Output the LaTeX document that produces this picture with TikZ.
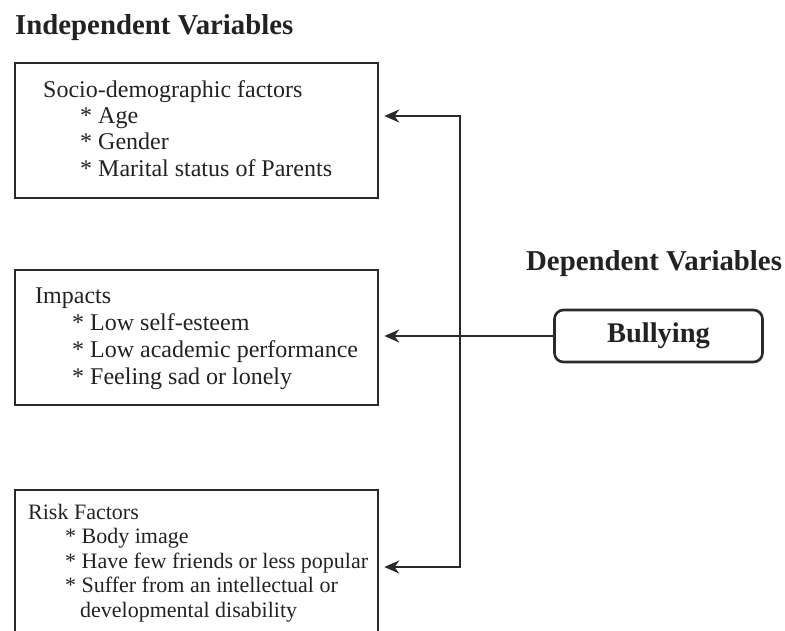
\documentclass[tikz,border=0pt]{standalone}
\usepackage{fontspec}
\setmainfont{Liberation Serif}
\usepackage{tikz}
\usetikzlibrary{positioning, arrows.meta, calc}
\definecolor{frameInk}{HTML}{2A2A2A}
\definecolor{textInk}{HTML}{222222}

\begin{document}
\begin{tikzpicture}[
  x=1pt, y=-1pt,
  varbox/.style={
    rectangle, draw=frameInk, line width=2.6pt,
    minimum width=363pt, minimum height=#1, inner sep=0pt
  },
  depbox/.style={
    rectangle, rounded corners=9pt,
    draw=frameInk, line width=2.6pt,
    minimum width=208pt, minimum height=52pt,
    font=\fontsize{28.5}{32}\selectfont\bfseries, text=textInk
  },
  headlabel/.style={
    font=\fontsize{28.8}{32}\selectfont\bfseries, text=textInk,
    anchor=base west, inner sep=0pt
  },
  listlabel/.style={
    font=\fontsize{24}{#1}\selectfont, text=textInk,
    align=left, anchor=base west, inner sep=0pt
  },
  linkarrow/.style={
    draw=frameInk, line width=2.3pt,
    {Stealth[length=15pt, width=13pt]}-{Stealth[length=15pt, width=13pt]},
    shorten >=5pt, shorten <=5pt
  },
]
\clip (0,0) rectangle (785,630);

% === HEADINGS ===
\node[headlabel] (indep) at (15,34) {Independent Variables};
\node[headlabel] (dep) at (526,270) {Dependent Variables};

% === INDEPENDENT VARIABLE BOXES ===
% Socio-demographic (text placed by its last baseline)
\node[varbox=135pt] (socio) at (196.5,130.5) {};
\node[listlabel=26.3pt] (sociotext) at (43,176) {
  Socio-demographic factors\\
  \hspace*{37pt}* Age\\
  \hspace*{37pt}* Gender\\
  \hspace*{37pt}* Marital status of Parents
};

% Impacts
\node[varbox=135pt] (impact) at (196.5,337.5) {};
\node[listlabel=26.8pt] (impacttext) at (35,384) {
  Impacts\\
  \hspace*{37pt}* Low self-esteem\\
  \hspace*{37pt}* Low academic performance\\
  \hspace*{37pt}* Feeling sad or lonely
};

% Risk factors (smaller type, runs past the lower edge)
\node[varbox=160pt] (risk) at (196.5,570) {};
\node[listlabel=24.5pt, font=\fontsize{22}{24.5}\selectfont] (risktext) at (28,617) {
  Risk Factors\\
  \hspace*{37pt}* Body image\\
  \hspace*{37pt}* Have few friends or less popular\\
  \hspace*{37pt}* Suffer from an intellectual or\\
  \hspace*{52pt}developmental disability
};

% === DEPENDENT VARIABLE ===
\node[depbox] (bully) at (658.5,336) {Bullying};

% === LINKS ===
\coordinate (jtop) at (460,116);
\coordinate (jbot) at (460,567);
\draw[linkarrow] (jtop -| socio.east) -- (jtop) -- (jbot) -- (jbot -| risk.east);
\draw[linkarrow, {Stealth[length=15pt, width=13pt]}-, shorten >=0pt]
  (bully.west -| impact.east) -- (bully.west);

\end{tikzpicture}
\end{document}
